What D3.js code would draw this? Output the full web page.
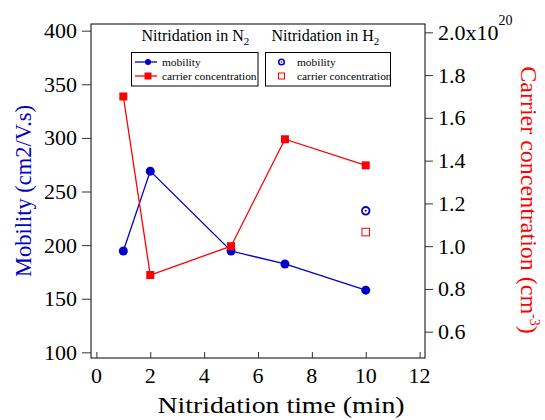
<!DOCTYPE html>
<html>
<head>
<meta charset="utf-8">
<script src="https://cdn.jsdelivr.net/npm/d3@7"></script>
<style>
  body { margin: 0; background: #fff; }
</style>
</head>
<body>
<svg width="545" height="420"></svg>
<script>
// data
const timeN2 = [1, 2, 5, 7, 10];
const mobilityN2 = [194.5, 269, 194.5, 182.4, 158];
const carrierN2 = [1.70, 0.865, 1.0, 1.50, 1.378];   // x10^20 cm-3

const timeH2 = [10];
const mobilityH2 = [232];
const carrierH2 = [1.066];

const xTicks = [0, 2, 4, 6, 8, 10, 12];
const leftTicks = [100, 150, 200, 250, 300, 350, 400];
const rightTicks = [0.6, 0.8, 1.0, 1.2, 1.4, 1.6, 1.8, 2.0];

const blue = '#0000cc';
const red = '#ff0000';
const FONT = '"Liberation Serif", "Times New Roman", Times, serif';

const svg = d3.select('svg');

const x = d3.scaleLinear().domain([-0.2, 12.2]).range([91, 425]);
const yL = d3.scaleLinear().domain([94.7, 406.25]).range([358, 24]);
const yR = d3.scaleLinear().domain([0.477, 2.039]).range([358, 24]);

// text helper, sx stretches the text along its direction
const addText = (str, px, py, size, anchor, rot, color, sx) => {
    return svg.append('text')
        .attr('transform', `translate(${px},${py}) rotate(${rot || 0}) scale(${sx || 1},1)`)
        .attr('text-anchor', anchor || 'start')
        .attr('font-family', FONT)
        .attr('font-size', size)
        .attr('fill', color || '#000')
        .text(str);
}

// frame
svg.append('rect')
    .attr('x', 91).attr('y', 24)
    .attr('width', 334).attr('height', 334)
    .attr('fill', 'none')
    .attr('stroke', '#000')
    .attr('stroke-width', 1);

// axes (ticks only, frame draws the lines)
const bottomAxis = d3.axisBottom(x).tickValues(xTicks).tickSizeInner(-6).tickSizeOuter(0).tickFormat('');
svg.append('g').attr('transform', 'translate(0,358)').call(bottomAxis)
    .call(g => g.select('.domain').remove());

const leftAxis = d3.axisLeft(yL).tickValues(leftTicks).tickSizeInner(9).tickSizeOuter(0).tickFormat('');
svg.append('g').attr('transform', 'translate(91,0)').call(leftAxis)
    .call(g => g.select('.domain').remove());

const rightAxis = d3.axisRight(yR).tickValues(rightTicks).tickSizeInner(8).tickSizeOuter(0).tickFormat('');
svg.append('g').attr('transform', 'translate(425,0)').call(rightAxis)
    .call(g => g.select('.domain').remove());

svg.selectAll('.tick line').attr('stroke', '#333');

// tick labels
xTicks.forEach(t => addText(t, x(t), 383, 22, 'middle'));
leftTicks.forEach(t => addText(t, 77, yL(t) + 7.5, 22, 'end'));
rightTicks.forEach(t => {
    const lab = addText(t.toFixed(1), 438, yR(t) + 7.5, 22, 'start');
    if (t === 2.0) {
        lab.text('2.0x10');
        lab.append('tspan').attr('dy', -15).attr('font-size', 14).text('20');
    }
});

// axis titles
addText('Nitridation time (min)', 281, 413, 23, 'middle', 0, '#000', 1.21);
addText('Mobility (cm2/V.s)', 31, 191, 22.5, 'middle', -90, blue);
const rt = addText('Carrier concentration (cm', 521, 200, 24, 'middle', 90, red);
rt.append('tspan').attr('dy', -9).attr('font-size', 14).text('-3');
rt.append('tspan').attr('dy', 9).text(')');

// lines
const lineMob = d3.line().x((d, i) => x(timeN2[i])).y(d => yL(d));
const lineCar = d3.line().x((d, i) => x(timeN2[i])).y(d => yR(d));

svg.append('path').datum(mobilityN2)
    .attr('d', lineMob)
    .attr('fill', 'none').attr('stroke', blue).attr('stroke-width', 1.3);
svg.append('path').datum(carrierN2)
    .attr('d', lineCar)
    .attr('fill', 'none').attr('stroke', red).attr('stroke-width', 1.3);

// markers
svg.selectAll('.mobN2').data(mobilityN2).enter().append('circle')
    .attr('cx', (d, i) => x(timeN2[i]))
    .attr('cy', d => yL(d))
    .attr('r', 4.5)
    .attr('fill', blue);

svg.selectAll('.carN2').data(carrierN2).enter().append('rect')
    .attr('x', (d, i) => x(timeN2[i]) - 4)
    .attr('y', d => yR(d) - 4)
    .attr('width', 8).attr('height', 8)
    .attr('fill', red);

svg.selectAll('.mobH2').data(mobilityH2).enter().append('g')
    .attr('transform', (d, i) => `translate(${x(timeH2[i])},${yL(d)})`)
    .each(function() {
        d3.select(this).append('circle').attr('r', 3.8).attr('fill', 'none').attr('stroke', blue).attr('stroke-width', 1.8);
        d3.select(this).append('circle').attr('r', 1).attr('fill', blue);
    });

svg.selectAll('.carH2').data(carrierH2).enter().append('rect')
    .attr('x', (d, i) => x(timeH2[i]) - 3.8)
    .attr('y', d => yR(d) - 3.8)
    .attr('width', 7.6).attr('height', 7.6)
    .attr('fill', 'none').attr('stroke', red).attr('stroke-width', 1);

// legends
const legTitle = (str, sub, px) => {
    const t = addText(str, px, 41, 16, 'start');
    t.append('tspan').attr('dy', 4).attr('font-size', 11).text(sub);
}
legTitle('Nitridation in N', '2', 141.5);
legTitle('Nitridation in H', '2', 271.5);

svg.append('rect').attr('x', 131.5).attr('y', 52.5).attr('width', 126.5).attr('height', 33.5)
    .attr('fill', '#fff').attr('stroke', '#000').attr('stroke-width', 1);
svg.append('rect').attr('x', 265.5).attr('y', 52.5).attr('width', 125).attr('height', 33.5)
    .attr('fill', '#fff').attr('stroke', '#000').attr('stroke-width', 1);

// N2 legend entries
svg.append('line').attr('x1', 135).attr('x2', 157).attr('y1', 62).attr('y2', 62).attr('stroke', blue).attr('stroke-width', 1.3);
svg.append('circle').attr('cx', 148).attr('cy', 62).attr('r', 3).attr('fill', blue);
svg.append('line').attr('x1', 135).attr('x2', 157).attr('y1', 76).attr('y2', 76).attr('stroke', red).attr('stroke-width', 1.3);
svg.append('rect').attr('x', 144.5).attr('y', 72.5).attr('width', 7).attr('height', 7).attr('fill', red);
addText('mobility', 162, 65.5, 11.4, 'start');
addText('carrier concentration', 162, 79.5, 11.4, 'start');

// H2 legend entries
svg.append('circle').attr('cx', 281.5).attr('cy', 62).attr('r', 2.8).attr('fill', 'none').attr('stroke', blue).attr('stroke-width', 1.5);
svg.append('circle').attr('cx', 281.5).attr('cy', 62).attr('r', 0.8).attr('fill', blue);
svg.append('rect').attr('x', 278.5).attr('y', 73).attr('width', 6).attr('height', 6).attr('fill', 'none').attr('stroke', red).attr('stroke-width', 1);
addText('mobility', 297, 65.5, 11.4, 'start');
addText('carrier concentration', 297, 79.5, 11.4, 'start');
</script>
</body>
</html>
